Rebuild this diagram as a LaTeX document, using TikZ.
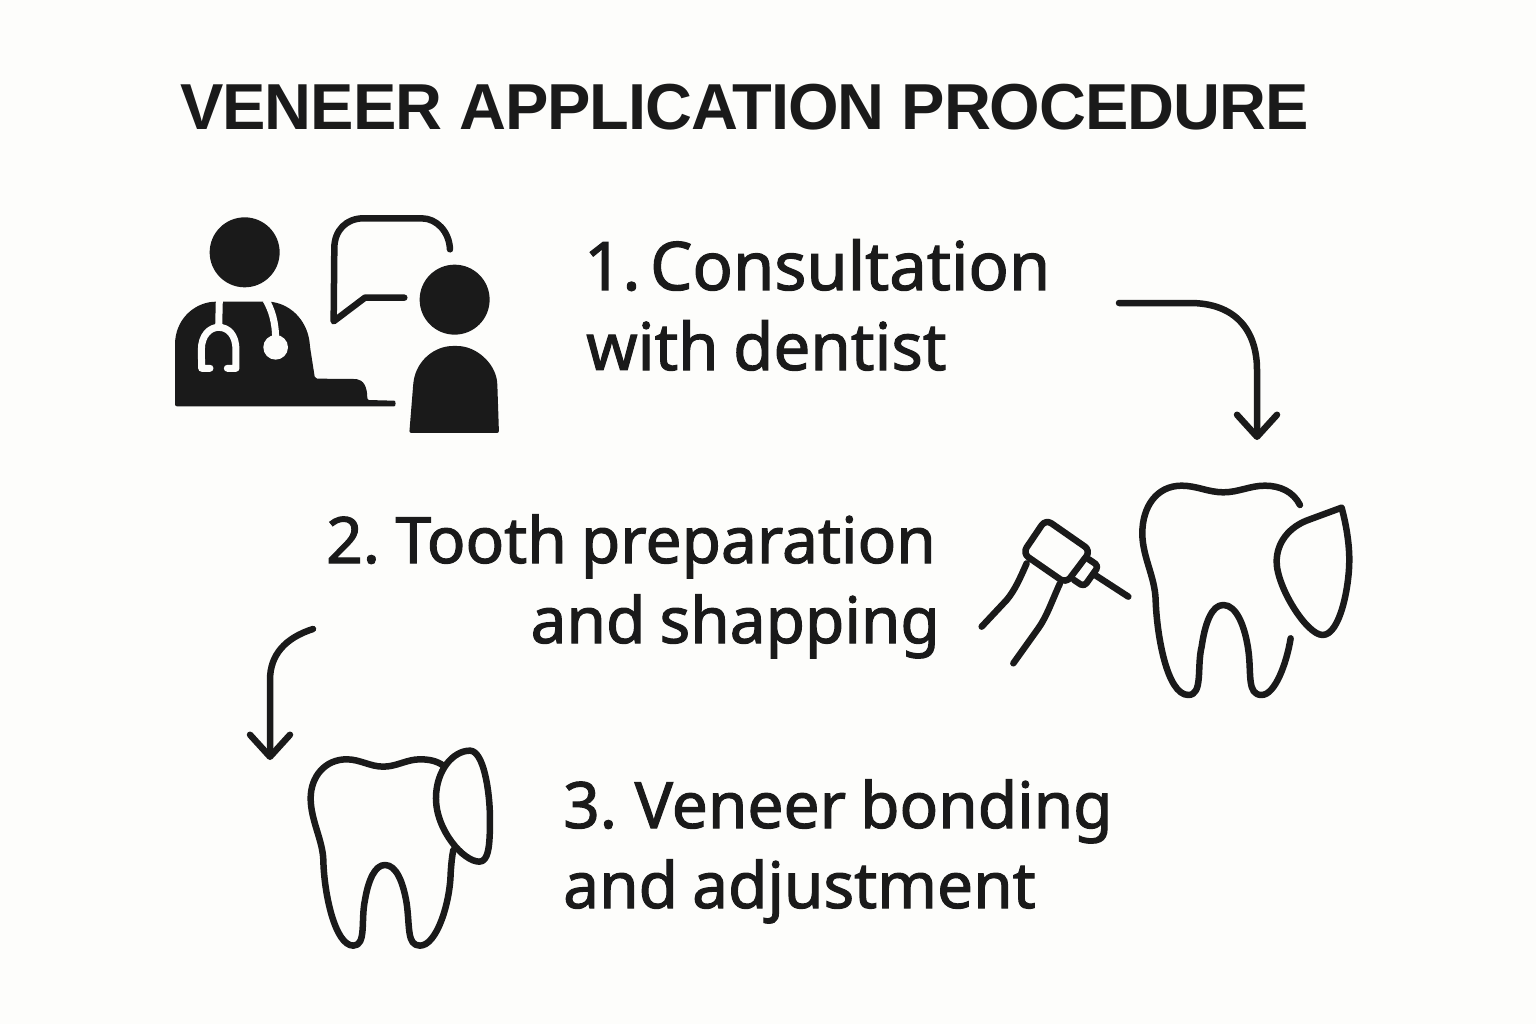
\documentclass[tikz,border=0pt]{standalone}
\usepackage{fontspec}
\setmainfont{Noto Sans}
\newfontfamily\stepfont[FakeBold=1.7,WordSpace=0.85]{Noto Sans}
\newfontfamily\titlefont[LetterSpace=-1.6]{Liberation Sans}
\usetikzlibrary{arrows.meta}
\definecolor{ink}{HTML}{1A1A1A}
\definecolor{paper}{HTML}{FDFDFB}
\tikzstyle{steptext}=[inner sep=0pt,anchor=base west,text=ink,font=\stepfont\fontsize{67}{66}\selectfont]
\tikzstyle{stepmid}=[steptext,font=\stepfont\fontsize{65.5}{66}\selectfont]
\tikzstyle{stepnarrow}=[steptext,font=\stepfont\fontsize{64}{66}\selectfont]
\tikzstyle{titletext}=[inner sep=0pt,anchor=base west,text=ink,font=\titlefont\bfseries\fontsize{65}{66}\selectfont]
\tikzstyle{outline}=[draw=ink,line width=6.5pt,line cap=round,line join=round]
\tikzstyle{flow}=[outline,-{Straight Barb[length=22pt,width=40pt,round]}]
\tikzstyle{icon}=[x=0.3333pt,y=-0.3333pt]

\begin{document}
\begin{tikzpicture}[x=1pt,y=-1pt]
      \fill[paper] (0,0) rectangle (1536,1024);
      \useasboundingbox (0,0) rectangle (1536,1024);

      \node[titletext] (title) at (180,130) {VENEER APPLICATION PROCEDURE};
      \node[steptext] (stepa1) at (584,290) {1.\hspace{-11pt} Consultation};
      \node[stepmid] (stepa2) at (586,370) {with dentist};
      \foreach \n/\x/\y/\t in {stepc1/563/828/{3.\hspace{-2pt} Veneer bonding},stepc2/563/908/{and adjustment}}{
        \node[stepnarrow] (\n) at (\x,\y) {\t};
      }
      \node[stepnarrow,anchor=base east] (stepb1) at (936,563) {2.\hspace{-4pt} Tooth preparation};
      \node[stepnarrow,anchor=base east] (stepb2) at (940,643) {and shapping};

      % arrows
      \coordinate (froma) at (1119,303);
      \coordinate (toa) at (1257,440);
      \coordinate (fromb) at (313,629);
      \coordinate (tob) at (270,760);
      \draw[flow] (froma) -- (1190,303) .. controls (1235,303) and (1257,330) .. (1257,370) -- (toa);
      \draw[flow] (fromb) .. controls (285,638) and (270,655) .. (270,680) -- (tob);

      % doctor and patient
      \begin{scope}[shift={(160,200)},icon]
        \fill[ink] (254,157) circle (105);
        \fill[ink,rounded corners=2pt] (45,619) -- (45,440) .. controls (45,360) and (100,310) .. (165,305)
          -- (330,305) .. controls (400,315) and (445,370) .. (450,440) -- (465,536) -- (585,537)
          .. controls (610,540) and (622,560) .. (622,600) -- (697,602)
          .. controls (708,602) and (708,619) .. (697,619) -- cycle;
        \draw[paper,line width=7pt,line cap=round,line join=round] (178,300) -- (176,382);
        \draw[paper,line width=7pt,line cap=round,line join=round] (150,505) -- (125,505) -- (124,450)
          .. controls (124,405) and (150,382) .. (176,382) .. controls (205,382) and (228,405) .. (228,450)
          -- (228,505) -- (202,505);
        \draw[paper,line width=7pt] (318,300) .. controls (335,330) and (347,365) .. (347,420);
        \fill[paper] (347,442) circle (37);
        \draw[outline] (870,148) .. controls (868,95) and (830,55) .. (785,55) -- (610,55)
          .. controls (560,55) and (523,90) .. (523,145) -- (521,364) -- (615,293) -- (733,293);
        \fill[ink] (884,299) circle (105);
        \fill[ink,rounded corners=2pt] (748,699) -- (760,550) .. controls (770,480) and (825,438) .. (885,438)
          .. controls (950,438) and (1005,490) .. (1012,550) -- (1017,699) -- cycle;
      \end{scope}

      % handpiece and prepared tooth
      \begin{scope}[shift={(960,460)},icon]
        \draw[outline,rounded corners=7pt] (257,178) -- (392,272) -- (318,370) -- (188,280) -- cycle;
        \draw[outline,rounded corners=4pt] (385,297) -- (416,318) -- (372,380) -- (342,360);
        \draw[outline] (405,345) -- (505,410);
        \draw[outline] (200,310) .. controls (180,355) and (165,390) .. (140,420) -- (65,500);
        \draw[outline] (300,370) .. controls (275,425) and (260,470) .. (235,505) -- (160,610);
        \draw[outline] (1020,135) .. controls (1000,95) and (960,77) .. (915,77)
          .. controls (870,77) and (835,97) .. (790,97) .. controls (745,97) and (710,77) .. (665,77)
          .. controls (590,77) and (547,140) .. (547,220) .. controls (547,290) and (585,350) .. (587,420)
          .. controls (590,520) and (620,705) .. (685,705) .. controls (730,705) and (710,620) .. (725,560)
          .. controls (735,490) and (755,435) .. (790,435) .. controls (830,435) and (855,500) .. (865,570)
          .. controls (875,640) and (860,705) .. (905,705) .. controls (945,705) and (980,610) .. (992,535);
        \draw[outline] (1145,143) -- (1050,178) .. controls (985,200) and (950,250) .. (950,305)
          .. controls (950,380) and (1040,525) .. (1088,525) .. controls (1140,525) and (1168,380) .. (1168,300)
          .. controls (1168,240) and (1155,180) .. (1145,143) -- cycle;
      \end{scope}

      % bonded tooth
      \begin{scope}[shift={(240,620)},icon]
        \draw[outline] (610,437) .. controls (590,422) and (565,418) .. (540,418)
          .. controls (500,418) and (470,440) .. (430,440) .. controls (390,440) and (360,418) .. (320,418)
          .. controls (255,418) and (212,470) .. (212,535) .. controls (212,600) and (248,660) .. (250,720)
          .. controls (252,820) and (285,977) .. (340,977) .. controls (380,977) and (362,900) .. (375,840)
          .. controls (385,780) and (405,735) .. (435,735) .. controls (470,735) and (490,790) .. (500,850)
          .. controls (510,920) and (500,977) .. (540,977) .. controls (590,977) and (630,850) .. (632,760)
          .. controls (634,730) and (636,710) .. (640,690);
        \draw[outline] (690,392) .. controls (730,392) and (750,510) .. (750,600)
          .. controls (750,680) and (745,725) .. (718,725) .. controls (670,725) and (588,630) .. (588,535)
          .. controls (588,450) and (640,392) .. (690,392) -- cycle;
      \end{scope}
    \end{tikzpicture}
\end{document}
